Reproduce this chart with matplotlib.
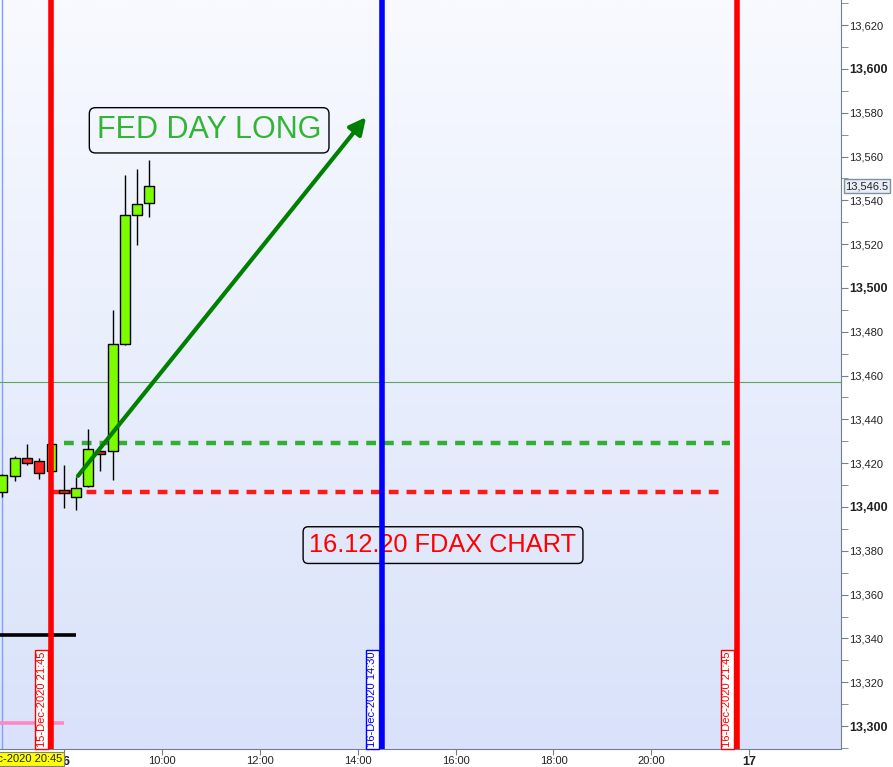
import numpy as np
import matplotlib
matplotlib.use("Agg")
import matplotlib.pyplot as plt
from matplotlib.colors import LinearSegmentedColormap

plt.rcParams['font.family'] = ['Liberation Sans', 'DejaVu Sans']

###################
# data (15-min FDAX candles, session time in hours)
###################
times = ['20:45', '21:00', '21:15', '21:30', '21:45',
         '08:00', '08:15', '08:30', '08:45', '09:00', '09:15', '09:30', '09:45']
opens = [13407.0, 13414.3, 13422.2, 13420.8, 13416.6,
         13407.7, 13404.7, 13409.4, 13425.6, 13425.4, 13474.3, 13533.2, 13538.6]
highs = [13415.0, 13423.3, 13428.8, 13422.2, 13429.0,
         13419.2, 13413.8, 13435.6, 13426.0, 13489.9, 13551.6, 13554.3, 13558.4]
lows = [13404.7, 13412.0, 13419.3, 13412.8, 13416.0,
        13399.7, 13398.6, 13409.0, 13416.6, 13412.3, 13474.0, 13519.8, 13532.6]
closes = [13414.6, 13422.2, 13420.2, 13415.7, 13428.6,
          13406.2, 13408.5, 13426.3, 13424.3, 13474.3, 13533.2, 13538.2, 13546.5]
prev_day = [True] * 5 + [False] * 8

last_price = 13546.5
green_level = 13429
red_level = 13407
black_level = 13341.5
pink_level = 13301.2
cross_price = 13457

vlines_t = ['21:45', '14:30', '21:45']
vlines_prev = [True, False, False]
vlines_lbl = ['15-Dec-2020 21:45', '16-Dec-2020 14:30', '16-Dec-2020 21:45']
vlines_col = ['#ff0000', '#0000ff', '#ff0000']

xtick_t = [8, 10, 12, 14, 16, 18, 20, 22]
xtick_lbl = ['16', '10:00', '12:00', '14:00', '16:00', '18:00', '20:00', '17']


def to_x(t, prev=False):
    # session runs 08:00-22:00; previous day's evening is placed just before 08:00
    h, m = t.split(':')
    v = int(h) + int(m) / 60.0
    if prev:
        v = v - 14
    return v


xs = np.array([to_x(t, p) for t, p in zip(times, prev_day)])
opens = np.array(opens); closes = np.array(closes)

fig = plt.figure(figsize=(8.93, 7.67), dpi=100)
ax = fig.add_axes([0, 18 / 767, 841 / 893, 749 / 767])
xmin, xmax = 6.70, 23.87
ymin, ymax = 13289.5, 13631.5

# background gradient (darker at the bottom)
grad = np.linspace(0, 1, 256).reshape(-1, 1)
cmap = LinearSegmentedColormap.from_list('bg', ['#d9e2fa', '#f8faff'])
ax.imshow(grad, extent=[xmin, xmax, ymin, ymax], origin='lower', aspect='auto', cmap=cmap, zorder=0)

# crosshair
ax.axvline(to_x('20:45', True), color='#7fa0ff', lw=1, zorder=1)
ax.axhline(cross_price, color='#5aa85a', lw=0.8, zorder=1)

# level lines
ax.hlines(green_level, 8.0, 21.6, colors='#33b033', lw=3.2, linestyles=(0, (2.2, 1.8)), zorder=2)
ax.hlines(red_level, 7.75, 21.5, colors='#ff1a1a', lw=3.2, linestyles=(0, (2.2, 1.8)), zorder=2)
ax.hlines(black_level, xmin, 8.25, colors='black', lw=2.6, zorder=2)
ax.hlines(pink_level, xmin, 8.0, colors='#ff88c4', lw=2.6, zorder=2)

# candles
up = closes >= opens
ax.vlines(xs, lows, highs, colors='black', lw=1, zorder=3)
ax.bar(xs, np.abs(closes - opens), bottom=np.minimum(opens, closes), width=0.2,
       color=np.where(up, '#7cfc00', '#ff2020'), edgecolor='black', lw=1, zorder=4)

# vertical lines with labels
for t, p, lbl, c in zip(vlines_t, vlines_prev, vlines_lbl, vlines_col):
    xv = to_x(t, p)
    ax.axvline(xv, color=c, lw=4, zorder=5)
    ax.annotate(lbl, xy=(xv, 0), xycoords=('data', 'axes fraction'),
                xytext=(-3.5, 1.5), textcoords='offset points', rotation=90,
                ha='right', va='bottom', fontsize=8, color=c, zorder=6,
                bbox=dict(boxstyle='square,pad=0.15', fc='white', ec=c, lw=1))

# arrow
ax.annotate('', xy=(14.21, 13579), xytext=(8.255, 13413.2),
            arrowprops=dict(arrowstyle='-|>,head_length=1.0,head_width=0.5',
                            color='#008000', lw=3), zorder=6)

# text boxes
ax.text(10.97, 13572, 'FED DAY LONG', fontsize=22, color='#33b533', ha='center', va='center',
        zorder=7, bbox=dict(boxstyle='round,pad=0.25,rounding_size=0.2', fc='none', ec='black', lw=1))
ax.text(15.745, 13382.6, '16.12.20 FDAX CHART', fontsize=18.3, color='#ff0000', ha='center',
        va='center', zorder=4,
        bbox=dict(boxstyle='round,pad=0.25,rounding_size=0.2', fc='none', ec='black', lw=1))

ax.set_xlim(xmin, xmax)
ax.set_ylim(ymin, ymax)

# y axis on the right
ax.yaxis.tick_right()
yt = np.arange(13300, 13621, 20)
ax.set_yticks(yt)
ax.set_yticks(np.arange(13290, 13631, 10), minor=True)
ax.set_yticklabels(['{:,}'.format(v) for v in yt])
for lab, v in zip(ax.get_yticklabels(), yt):
    if v % 100 == 0:
        lab.set_fontweight('bold')
        lab.set_fontsize(9)
    else:
        lab.set_fontsize(8)
ax.tick_params(axis='y', which='both', direction='out', colors='#708090', labelcolor='#222222',
               length=5, pad=1)

ax.set_xticks(xtick_t)
ax.set_xticklabels(xtick_lbl)
for lab, lb in zip(ax.get_xticklabels(), xtick_lbl):
    if ':' in lb:
        lab.set_fontsize(8)
    else:
        lab.set_fontweight('bold')
        lab.set_fontsize(9)
ax.tick_params(axis='x', direction='out', colors='#708090', labelcolor='#222222', length=4, pad=1)

for s in ['top', 'left']:
    ax.spines[s].set_visible(False)
for s in ['right', 'bottom']:
    ax.spines[s].set_color('#708090')

# last price tag
ax.annotate('{:,.1f}'.format(last_price), xy=(1, last_price), xycoords=('axes fraction', 'data'),
            xytext=(3, 0), textcoords='offset points', ha='left', va='center', fontsize=8,
            color='#222222', annotation_clip=False,
            bbox=dict(boxstyle='square,pad=0.15', fc='#e8eef8', ec='#8090a0', lw=1))

# crosshair time label
fig.text(62 / 893, 8 / 767, '15-Dec-2020 20:45', ha='right', va='center', fontsize=8,
         color='#222222', bbox=dict(boxstyle='square,pad=0.2', fc='#ffff00', ec='#808080', lw=0.8))

fig.savefig('out.png', dpi=100)
